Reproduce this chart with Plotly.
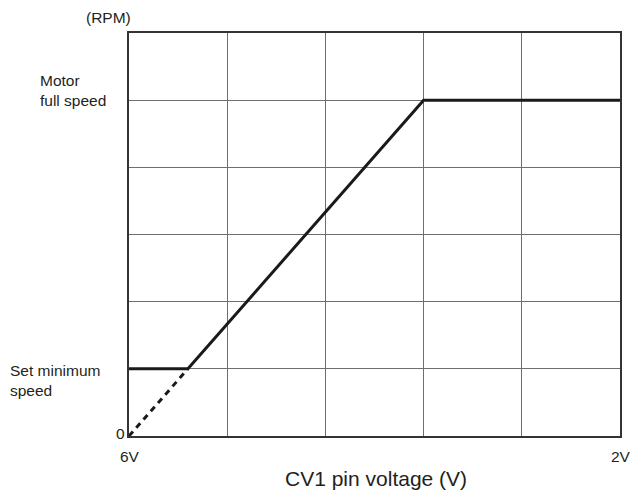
import plotly.graph_objects as go

# Data (grid units: x 0..5 across 6V -> 2V, y 0..6 RPM rows)
solid_x = [0, 0.6, 3, 5]
solid_y = [1, 1, 5, 5]
dash_x = [0, 0.6]
dash_y = [0, 1]
x_tick_labels = ["6V", "2V"]
x_tick_pos = [0, 5]
y_labels = ["Motor<br>full speed", "Set minimum<br>speed"]
y_label_pos = [5, 1]

font = "Liberation Sans, Arial, sans-serif"
fig = go.Figure()
fig.add_trace(go.Scatter(x=dash_x, y=dash_y, mode="lines",
                         line=dict(color="#1a1a1a", width=3, dash="6px,5px"),
                         showlegend=False, hoverinfo="skip"))
fig.add_trace(go.Scatter(x=solid_x, y=solid_y, mode="lines",
                         line=dict(color="#1a1a1a", width=3),
                         showlegend=False, hoverinfo="skip"))

fig.update_xaxes(range=[0, 5], dtick=1, tick0=0, showgrid=True, gridcolor="#6e6e6e",
                 gridwidth=1, showticklabels=False, zeroline=False,
                 showline=True, linecolor="#333333", linewidth=2, mirror=True, ticks="")
fig.update_yaxes(range=[0, 6], dtick=1, tick0=0, showgrid=True, gridcolor="#6e6e6e",
                 gridwidth=1, showticklabels=False, zeroline=False,
                 showline=True, linecolor="#333333", linewidth=2, mirror=True, ticks="")

W, H = 633, 495
PL, PR, PT, PB = 129, 620, 33, 436  # plot area in page pixels


def px(X):
    return (X - PL) / (PR - PL)


def py(Y):
    return (PB - Y) / (PB - PT)


def txt(text, X, Y, size=15.5, xanchor="center", align="center"):
    return dict(x=px(X), y=py(Y), xref="paper", yref="paper", text=text, showarrow=False,
                xanchor=xanchor, yanchor="middle", align=align,
                font=dict(size=size, color="#231f20", family=font))


ann = []
for t, xv in zip(x_tick_labels, x_tick_pos):
    X = PL + (PR - PL) * xv / 5 + 1
    ann.append(txt(t, X, 456))
ann.append(txt("0", 120, 433))
ann.append(txt("(RPM)", 108, 17))
ann.append(txt(y_labels[0], 38, 90, xanchor="left", align="left"))
ann.append(txt(y_labels[1], 8, 380, xanchor="left", align="left"))
ann.append(txt("CV1 pin voltage (V)", 376, 478, size=21))

fig.update_layout(width=W, height=H,
                  margin=dict(l=PL, r=W - PR, t=PT, b=H - PB),
                  plot_bgcolor="white", paper_bgcolor="white", annotations=ann)
fig.write_html("out.html", config={"displayModeBar": False},
               post_script="document.body.style.margin='0px';")
